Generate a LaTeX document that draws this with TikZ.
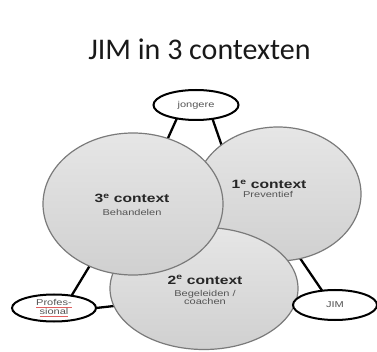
\documentclass[tikz,border=0pt]{standalone}
\usepackage{fontspec}
\setmainfont{Liberation Sans}
\newfontfamily\titlefont{Carlito}
\newfontfamily\wide[FakeStretch=1.3]{Liberation Sans}
\usetikzlibrary{shapes.geometric}
\definecolor{circline}{HTML}{7A7A7A}
\definecolor{subtxt}{HTML}{555555}
\definecolor{spell}{HTML}{E06060}
\definecolor{ctop}{HTML}{E6E6E6}
\definecolor{cbot}{HTML}{D0D0D0}
\pgfdeclarelayer{bg}
\pgfsetlayers{bg,main}
\newcommand{\spellul}[1]{{\color{spell}\underline{\textcolor{subtxt}{#1}}}}
\tikzset{
  ctx/.style={ellipse, draw=circline, line width=1.2pt, inner sep=0pt, outer sep=0pt,
    top color=ctop, bottom color=cbot},
  small/.style={ellipse, draw=black, line width=2pt, fill=white, inner sep=0pt, outer sep=0pt,
    minimum width=85pt, minimum height=29pt, font=\wide\fontsize{8.5}{10}\selectfont,
    text=subtxt, align=center},
  conn/.style={draw=black, line width=2.3pt},
  hd/.style={font=\wide\bfseries\fontsize{12}{14}\selectfont, text=black!85, anchor=base},
  sub/.style={font=\wide\fontsize{8.5}{10}\selectfont, text=subtxt, anchor=base},
}
\begin{document}
\begin{tikzpicture}[x=1pt,y=-1pt]
\useasboundingbox (0,0) rectangle (377,352);
\node[font=\titlefont\fontsize{30}{36}\selectfont, anchor=base, text=black!90] (title) at (199.5,59.5) {JIM in 3 contexten};
% context circles (1e, then 2e, then 3e on top)
\node[ctx, minimum width=166pt, minimum height=134pt] (c1) at (278,194) {};
\node[ctx, minimum width=188pt, minimum height=122pt] (c2) at (204,288.5) {};
\node[ctx, minimum width=180pt, minimum height=142pt] (c3) at (133,204) {};
% texts
\node[hd] (h3) at (132,203) {3\textsuperscript{e} context};
\node[sub] (s3) at (132,216) {Behandelen};
\node[hd] (h1) at (269,189) {1\textsuperscript{e} context};
\node[sub] (s1) at (268,198) {Preventief};
\node[hd] (h2) at (205,284) {2\textsuperscript{e} context};
\node[sub] (s2) at (205,296) {Begeleiden /};
\node[sub] (s2b) at (205,305) {coachen};
% small ellipses
\node[small, minimum height=30pt] (jong) at (196,105) {jongere};
\node[small, minimum width=84pt, minimum height=27pt] (prof) at (54,308) {\spellul{Profes-}\\[-1pt]\spellul{sional}};
\node[small, minimum width=84pt, minimum height=30pt] (jim) at (335,305) {JIM};
% connectors behind
\begin{pgfonlayer}{bg}
\draw[conn] (jong.215) -- (c3.62);
\draw[conn] (jong.320) -- (c1.139);
\draw[conn] (prof.35) -- (c3.235);
\draw[conn] (prof.east) -- (c2.191);
\draw[conn] (jim.132) -- (c1.289);
\end{pgfonlayer}
\end{tikzpicture}
\end{document}
